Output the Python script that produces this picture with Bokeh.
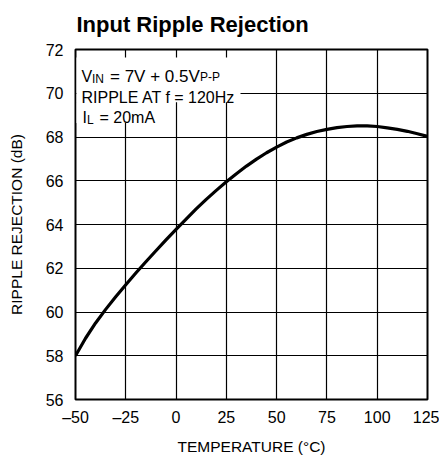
from bokeh.plotting import figure
from bokeh.models import FixedTicker, Label, BoxAnnotation, Range1d
from bokeh.embed import file_html
from bokeh.resources import INLINE

# ---- data ----
temperature = [-50, -45, -40, -35, -30, -25, -20, -15, -10, -5, 0, 5, 10, 15, 20, 25, 30, 35, 40,
               45, 50, 55, 60, 65, 70, 75, 80, 85, 90, 95, 100, 105, 110, 115, 120, 125]
rejection = [58.0, 58.8, 59.5, 60.12, 60.7, 61.25, 61.78, 62.3, 62.8, 63.3, 63.78, 64.25, 64.71,
             65.15, 65.56, 65.95, 66.32, 66.67, 66.99, 67.28, 67.54, 67.77, 67.96, 68.12, 68.25,
             68.35, 68.43, 68.48, 68.51, 68.51, 68.48, 68.42, 68.35, 68.26, 68.15, 68.03]
x_ticks = [-50, -25, 0, 25, 50, 75, 100, 125]
x_tick_labels = ["\u201350", "\u201325", "0", "25", "50", "75", "100", "125"]
y_ticks = [56, 58, 60, 62, 64, 66, 68, 70, 72]
title_text = "Input Ripple Rejection"

FONT = "Liberation Sans"

p = figure(width=439, height=459, x_range=Range1d(-50, 125), y_range=Range1d(56, 72),
           output_backend="svg", toolbar_location=None,
           min_border_left=75, min_border_right=12, min_border_top=47, min_border_bottom=60,
           title=title_text)

p.title.text_font = FONT
p.title.text_font_size = "22px"
p.title.text_font_style = "bold"
p.title.text_color = "black"
p.title.offset = 1
p.title.standoff = 22
p.title.vertical_align = "top"
p.title.text_line_height = 0.8

p.outline_line_color = "black"
p.outline_line_width = 2
p.background_fill_color = "white"
p.border_fill_color = "white"

for ax in (p.xaxis[0], p.yaxis[0]):
    ax.axis_line_color = None
    ax.major_tick_line_color = None
    ax.minor_tick_line_color = None
    ax.major_label_text_font = FONT
    ax.major_label_text_font_size = "16px"
    ax.major_label_text_color = "black"
    ax.axis_label_text_font = FONT
    ax.axis_label_text_font_size = "15.5px"
    ax.axis_label_text_font_style = "normal"
    ax.axis_label_text_color = "black"

p.xaxis.ticker = FixedTicker(ticks=x_ticks)
p.xaxis.major_label_overrides = {t: l for t, l in zip(x_ticks, x_tick_labels)}
p.yaxis.ticker = FixedTicker(ticks=y_ticks)
p.xaxis.axis_label = "TEMPERATURE (\u00b0C)"
p.yaxis.axis_label = "RIPPLE REJECTION (dB)"
p.xaxis.major_label_standoff = 3
p.yaxis.major_label_standoff = 6
p.xaxis.axis_label_standoff = 9
p.yaxis.axis_label_standoff = 18

for g in (p.xgrid[0], p.ygrid[0]):
    g.grid_line_color = "black"
    g.grid_line_width = 1.2
    g.grid_line_alpha = 1.0

# helpers converting reference pixel positions to data coordinates (for annotations)
def px2x(px):
    return -50 + (px - 75) * 175.0 / 352.0

def py2y(py):
    return 72 - (py - 47) * 16.0 / 352.0

# white boxes behind the condition text
p.add_layout(BoxAnnotation(left=px2x(76), right=px2x(240), top=py2y(55), bottom=py2y(100),
                           fill_color="white", fill_alpha=1.0, line_color=None, level="overlay"))
p.add_layout(BoxAnnotation(left=px2x(76), right=px2x(160), top=py2y(100), bottom=py2y(121),
                           fill_color="white", fill_alpha=1.0, line_color=None, level="overlay"))

def lab(txt, px, py, size):
    p.add_layout(Label(x=px2x(px), y=py2y(py), text=txt, text_font=FONT,
                       text_font_size=size, text_baseline="alphabetic", text_align="left",
                       text_color="black", level="overlay"))

# line 1
lab("V", 81, 74, "16px")
lab("IN", 91.5, 77, "12px")
lab("= 7V + 0.5V", 109.5, 74, "17px")
lab("P-P", 199.5, 74.5, "12px")
# line 2
lab("RIPPLE AT f = 120Hz", 81, 95, "16px")
# line 3
lab("I", 82, 115, "16px")
lab("L", 86.5, 118, "12px")
lab("= 20mA", 99, 115, "16px")

p.line(temperature, rejection, line_color="black", line_width=3.2, line_join="round")

open("out.html", "w").write(file_html(p, INLINE))
